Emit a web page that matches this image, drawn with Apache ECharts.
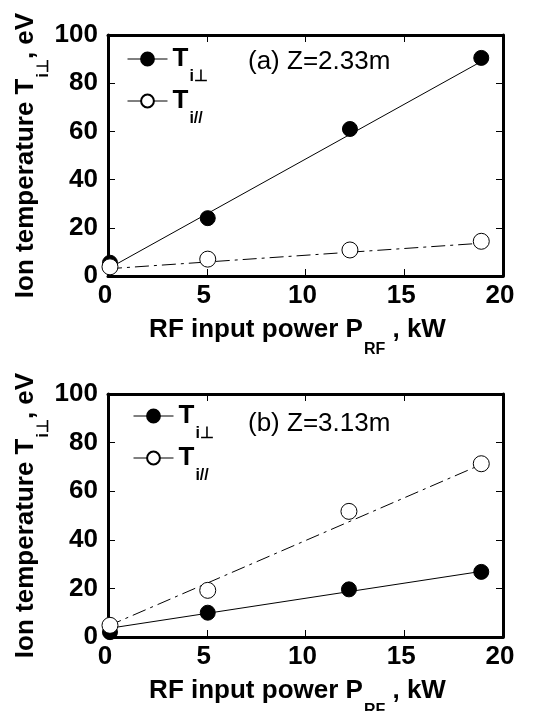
<!DOCTYPE html>
<html>
<head>
<meta charset="utf-8">
<script src="https://cdn.jsdelivr.net/npm/echarts@6/dist/echarts.min.js"></script>
<style>
  html, body { margin: 0; padding: 0; background: #fff; }
  #chart { width: 539px; height: 711px; }
</style>
</head>
<body>
<div id="chart"></div>
<script>
// panel (a) Z=2.33m
var powerA = [0.1, 5.05, 12.25, 18.9];
var tPerpA = [5.5, 24, 61, 90.5];
var tParA = [3.8, 7, 10.8, 14.4];
var fitPerpA = [[0, 3], [18.9, 89]];
var fitParA = [[0, 3], [18.9, 13.6]];

// panel (b) Z=3.13m
var powerB = [0.1, 5.05, 12.2, 18.9];
var tPerpB = [2, 10, 19.6, 26.8];
var tParB = [4.8, 19.2, 51.7, 71.3];
var fitPerpB = [[0, 3.5], [18.9, 27]];
var fitParB = [[0, 4.5], [18.9, 71]];

var panelTitles = ['(a) Z=2.33m', '(b) Z=3.13m'];
var xTicks = { min: 0, max: 20, interval: 5 };
var yTicks = { min: 0, max: 100, interval: 20 };

var FONT = 'Liberation Sans, Arial, sans-serif';
var dashDot = [14, 5, 3, 5];

function pairs(xs, ys) {
    return xs.map(function (x, i) { return [x, ys[i]]; });
}

var grids = [
    { left: 108, top: 35, width: 395, height: 241, outerBoundsMode: 'none' },
    { left: 108, top: 394, width: 395, height: 243, outerBoundsMode: 'none' }
];
var legendPos = [{ left: 122, top: 41 }, { left: 128, top: 398 }];
var titleTop = [44, 406];

function nameRich(drop) {
    return {
        n: { fontFamily: FONT, fontSize: 26, fontWeight: 'bold', color: '#000' },
        s: { fontFamily: FONT, fontSize: 16, fontWeight: 'bold', color: '#000', padding: [drop, 0, 0, 1] }
    };
}

var xAxes = [], yAxes = [], series = [], legends = [], titles = [];

grids.forEach(function (g, k) {
    // bottom x axis with labels
    xAxes.push({
        gridIndex: k, type: 'value', position: 'bottom',
        min: xTicks.min, max: xTicks.max, interval: xTicks.interval,
        name: '{n|RF input power P}{s|RF}{n| , kW}',
        nameLocation: 'middle', nameGap: 26,
        nameTextStyle: { rich: nameRich(40), padding: [0, 16, 0, 0] },
        axisLine: { show: true, onZero: false, lineStyle: { color: '#000', width: 3 } },
        axisTick: { show: true, inside: true, length: 7, lineStyle: { color: '#000', width: 1 } },
        axisLabel: { fontFamily: FONT, fontSize: 26, fontWeight: 'bold', color: '#000', margin: 7, padding: [0, 6, 0, 0] },
        splitLine: { show: false }
    });
    // top x axis, frame only
    xAxes.push({
        gridIndex: k, type: 'value', position: 'top',
        min: xTicks.min, max: xTicks.max, interval: xTicks.interval,
        axisLine: { show: true, onZero: false, lineStyle: { color: '#000', width: 3 } },
        axisTick: { show: true, inside: true, length: 7, lineStyle: { color: '#000', width: 1 } },
        axisLabel: { show: false },
        splitLine: { show: false }
    });
    yAxes.push({
        gridIndex: k, type: 'value', position: 'left',
        min: yTicks.min, max: yTicks.max, interval: yTicks.interval,
        name: '{n|Ion temperature T}{s|i\u22a5}{n|, eV}',
        nameLocation: 'middle', nameGap: 56, nameRotate: 90,
        nameMoveOverlap: false,
        nameTextStyle: { rich: nameRich(36) },
        axisLine: { show: true, onZero: false, lineStyle: { color: '#000', width: 3 } },
        axisTick: { show: true, inside: true, length: 7, lineStyle: { color: '#000', width: 1 } },
        axisLabel: { fontFamily: FONT, fontSize: 26, fontWeight: 'bold', color: '#000', margin: 10, padding: [0, 0, 11, 0] },
        splitLine: { show: false }
    });
    yAxes.push({
        gridIndex: k, type: 'value', position: 'right',
        min: yTicks.min, max: yTicks.max, interval: yTicks.interval,
        axisLine: { show: true, onZero: false, lineStyle: { color: '#000', width: 3 } },
        axisTick: { show: true, inside: true, length: 7, lineStyle: { color: '#000', width: 1 } },
        axisLabel: { show: false },
        splitLine: { show: false }
    });

    titles.push({
        text: panelTitles[k],
        left: 243, top: titleTop[k],
        textStyle: { fontFamily: FONT, fontSize: 26, fontWeight: 'normal', color: '#000' }
    });

    legends.push({
        orient: 'vertical',
        left: legendPos[k].left, top: legendPos[k].top,
        itemWidth: 40, itemHeight: 16, itemGap: 3,
        data: ['perp' + k, 'par' + k],
        selectedMode: false,
        lineStyle: { color: '#000', width: 1, opacity: 1, type: 'solid' },
        formatter: function (name) {
            return name.indexOf('perp') === 0 ? '{t|T}{s|i\u22a5}' : '{t|T}{s|i//}';
        },
        textStyle: {
            rich: {
                t: { fontFamily: FONT, fontSize: 26, fontWeight: 'bold', color: '#000' },
                s: { fontFamily: FONT, fontSize: 16, fontWeight: 'bold', color: '#000', padding: [36, 0, 0, 1] }
            }
        }
    });
});

var sets = [
    { px: powerA, perp: tPerpA, par: tParA, fPerp: fitPerpA, fPar: fitParA },
    { px: powerB, perp: tPerpB, par: tParB, fPerp: fitPerpB, fPar: fitParB }
];

sets.forEach(function (d, k) {
    var xi = k * 2, yi = k * 2;
    series.push({
        type: 'line', xAxisIndex: xi, yAxisIndex: yi, data: d.fPerp,
        symbol: 'none', silent: true, z: 2,
        lineStyle: { color: '#000', width: 1 }
    });
    series.push({
        type: 'line', xAxisIndex: xi, yAxisIndex: yi, data: d.fPar,
        symbol: 'none', silent: true, z: 2,
        lineStyle: { color: '#000', width: 1, type: dashDot }
    });
    series.push({
        name: 'perp' + k, type: 'line', xAxisIndex: xi, yAxisIndex: yi,
        data: pairs(d.px, d.perp),
        symbol: 'circle', symbolSize: 15, z: 4,
        lineStyle: { width: 0, opacity: 0 },
        itemStyle: { color: '#000', borderColor: '#000', borderWidth: 1 }
    });
    series.push({
        name: 'par' + k, type: 'line', xAxisIndex: xi, yAxisIndex: yi,
        data: pairs(d.px, d.par),
        symbol: 'circle', symbolSize: 16, z: 5,
        lineStyle: { width: 0, opacity: 0 },
        itemStyle: { color: '#fff', borderColor: '#000', borderWidth: 1 }
    });
});

var chart = echarts.init(document.getElementById('chart'), null, { renderer: 'canvas' });
chart.setOption({
    animation: false,
    backgroundColor: '#fff',
    title: titles,
    legend: legends,
    grid: grids,
    xAxis: xAxes,
    yAxis: yAxes,
    series: series
});
</script>
</body>
</html>
